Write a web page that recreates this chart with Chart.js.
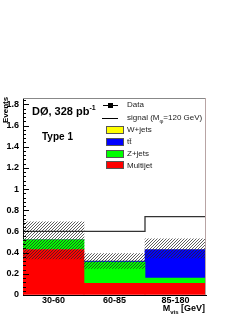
<!DOCTYPE html>
<html>
<head>
<meta charset="utf-8">
<script src="https://cdn.jsdelivr.net/npm/chart.js@4"></script>
<style>
  body { margin: 0; background: #fff; }
  #wrap { position: relative; width: 247px; height: 319px; font-family: "Liberation Sans", Arial, sans-serif; }
  #wrap canvas { position: absolute; left: 0; top: 0; }
  .lbl { position: absolute; white-space: nowrap; color: #000; }
  .leg { position: absolute; font-size: 8px; color: #222; white-space: nowrap; line-height: 10px; }
  .box { position: absolute; width: 18px; height: 8px; box-sizing: border-box; border: 1px solid #555; }
</style>
</head>
<body>
<div id="wrap">
  <canvas id="grafico" width="247" height="319"></canvas>
  <div class="lbl" style="left:32px;top:104px;font-size:11px;font-weight:bold;">DØ, 328 pb<sup style="font-size:7px;">-1</sup></div>
  <div class="lbl" style="left:42px;top:131px;font-size:10px;font-weight:bold;">Type 1</div>
  <div class="lbl" style="left:1px;top:96px;font-size:8px;font-weight:bold;transform-origin:0 0;transform:translate(0,27px) rotate(-90deg);">Events</div>
  <div class="lbl" style="right:42px;top:303px;font-size:9px;font-weight:bold;">M<sub style="font-size:6px;">vis</sub> [GeV]</div>

  <div style="position:absolute;left:103px;top:105px;width:15px;height:1px;background:#000;"></div>
  <div style="position:absolute;left:108px;top:103px;width:5px;height:5px;background:#000;"></div>
  <div class="leg" style="left:127px;top:100px;">Data</div>
  <div style="position:absolute;left:102px;top:118px;width:16px;height:1px;background:#000;"></div>
  <div class="leg" style="left:127px;top:113px;">signal (M<sub style="font-size:6px;">φ</sub>=120 GeV)</div>
  <div class="box" style="left:106px;top:126px;background:#ffff00;"></div>
  <div class="leg" style="left:127px;top:125px;">W+jets</div>
  <div class="box" style="left:106px;top:138px;background:#0000ff;"></div>
  <div class="leg" style="left:127px;top:137px;">tt̄</div>
  <div class="box" style="left:106px;top:150px;background:#00ff00;"></div>
  <div class="leg" style="left:127px;top:149px;">Z+jets</div>
  <div class="box" style="left:106px;top:161px;background:#ff0000;"></div>
  <div class="leg" style="left:127px;top:161px;">Multijet</div>
</div>
<script>
const bins = ["30-60", "60-85", "85-180"];
const multijet = [0.43, 0.11, 0.11];
const zjets = [0.09, 0.20, 0.05];
const ttbar = [0.00, 0.01, 0.27];
const wjets = [0.00, 0.00, 0.00];
const errLow = [0.34, 0.25, 0.35];
const errHigh = [0.69, 0.39, 0.53];
const signal = [0.60, 0.60, 0.74];
const yTicks = [0, 0.2, 0.4, 0.6, 0.8, 1, 1.2, 1.4, 1.6, 1.8];

// hachura ////
function hachura() {
  const c = document.createElement("canvas");
  c.width = 3; c.height = 3;
  const g = c.getContext("2d");
  g.fillStyle = "rgba(40,40,40,0.75)";
  // diagonal pixel a pixel
  g.fillRect(0, 2, 1, 1);
  g.fillRect(1, 1, 1, 1);
  g.fillRect(2, 0, 1, 1);
  return g.createPattern(c, "repeat");
}

// empilha as componentes em barras flutuantes
const componentes = [
  { label: "Multijet", vals: multijet, cor: "#ff0000" },
  { label: "Z+jets", vals: zjets, cor: "#00ff00" },
  { label: "tt", vals: ttbar, cor: "#0000ff" },
  { label: "W+jets", vals: wjets, cor: "#ffff00" }
];
let base = [0, 0, 0];
const barras = componentes.map((c, k) => {
  const data = c.vals.map((v, i) => [base[i], base[i] + v]);
  base = base.map((b, i) => b + c.vals[i]);
  return {
    type: "bar", label: c.label, data: data, backgroundColor: c.cor,
    borderWidth: 0, grouped: false, barPercentage: 1, categoryPercentage: 1, order: 2 + k
  };
});

const sinalPts = signal.map((v, i) => ({ x: i, y: v }));
sinalPts.push({ x: signal.length, y: signal[signal.length - 1] });

const molduraPlugin = {
  id: "moldura",
  afterDatasetsDraw(chart) {
    const ctx = chart.ctx, a = chart.chartArea, y = chart.scales.y;
    ctx.save();
    ctx.lineWidth = 1;
    ctx.strokeStyle = "#888";
    ctx.beginPath(); ctx.moveTo(a.left, a.top + 0.5); ctx.lineTo(a.right, a.top + 0.5); ctx.stroke();
    ctx.strokeStyle = "#b8a4a4";
    ctx.beginPath(); ctx.moveTo(a.right - 0.5, a.top); ctx.lineTo(a.right - 0.5, a.bottom); ctx.stroke();
    ctx.strokeStyle = "#000";
    for (let k = 0; k <= 46; k++) {
      const v = k * 0.04;
      const py = Math.round(y.getPixelForValue(v)) + 0.5;
      const len = (k % 5 === 0) ? 6 : 3;
      ctx.beginPath(); ctx.moveTo(a.left, py); ctx.lineTo(a.left + len, py); ctx.stroke();
    }
    ctx.restore();
  }
};

new Chart(document.getElementById("grafico"), {
  data: {
    labels: bins,
    datasets: [
      {
        type: "bar", label: "erro", data: errLow.map((l, i) => [l, errHigh[i]]),
        backgroundColor: hachura(), borderWidth: 0, grouped: false,
        barPercentage: 1, categoryPercentage: 1, order: 0
      },
      {
        type: "line", label: "signal", xAxisID: "x2", data: sinalPts, stepped: "before",
        borderColor: "#333", borderWidth: 1.3, pointRadius: 0, fill: false, order: 1
      },
      ...barras
    ]
  },
  options: {
    responsive: false,
    animation: false,
    layout: { padding: { left: 0, top: 98, right: 41, bottom: 0 } },
    plugins: { legend: { display: false }, tooltip: { enabled: false } },
    scales: {
      x: {
        type: "category", offset: true,
        grid: { display: false, drawTicks: false },
        border: { display: true, color: "#000", width: 1 },
        ticks: { color: "#000", padding: 0, font: { family: "Liberation Sans", size: 9, weight: "bold" } },
        afterFit(s) { s.height = 24; }
      },
      x2: { type: "linear", min: 0, max: 3, display: false },
      y: {
        min: 0, max: 1.86,
        grid: { drawOnChartArea: false, drawTicks: false },
        border: { display: true, color: "#000", width: 1 },
        afterBuildTicks(s) { s.ticks = yTicks.map(v => ({ value: v })); },
        ticks: {
          color: "#000", padding: 4,
          font: { family: "Liberation Sans", size: 9, weight: "bold" },
          callback: v => String(Number(v.toFixed(1)))
        },
        afterFit(s) { s.width = 23; }
      }
    }
  },
  plugins: [molduraPlugin]
});
</script>
</body>
</html>
